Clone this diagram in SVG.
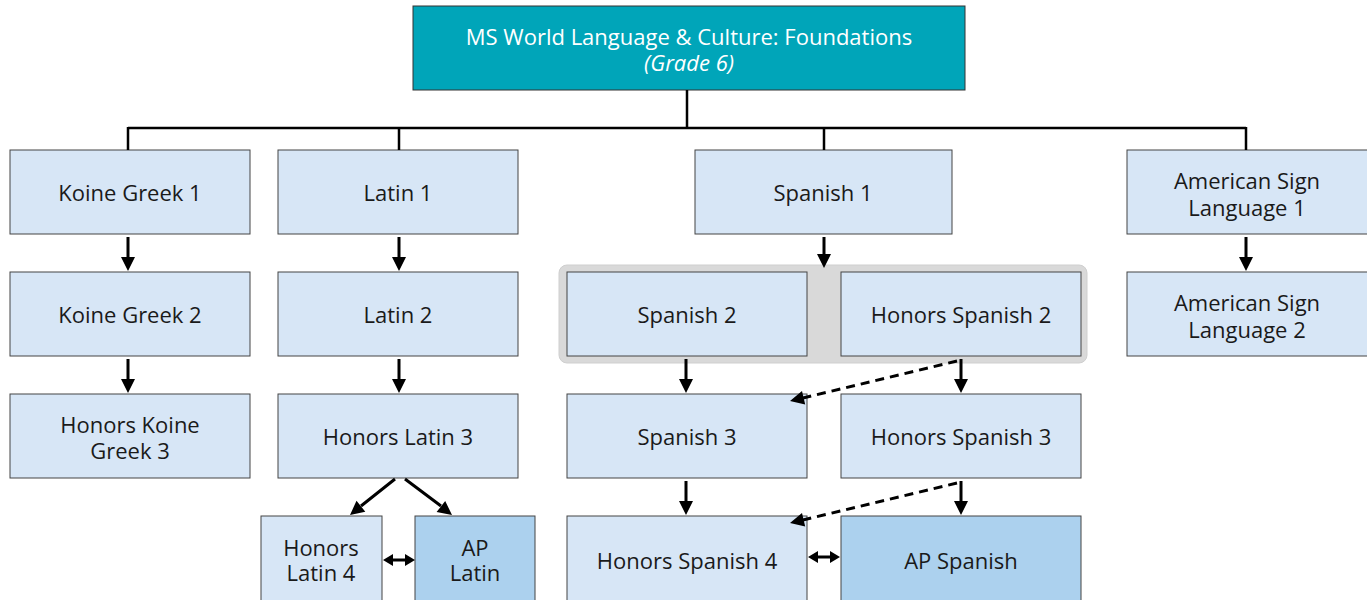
<svg xmlns="http://www.w3.org/2000/svg" width="1367" height="600" viewBox="0 0 1367 600">
<defs>
<style>
.box{fill:#d7e6f6;stroke:#444;stroke-width:1}
.ap{fill:#acd1ee;stroke:#444;stroke-width:1}
.top{fill:#00a5b9;stroke:#333;stroke-width:1}
.t{font-family:"Open Sans","Liberation Sans",sans-serif;font-size:22px;fill:#1a1a1a;text-anchor:middle}
.tw{font-family:"Open Sans","Liberation Sans",sans-serif;font-size:22px;fill:#fff;text-anchor:middle}
.ln{stroke:#000;stroke-width:2.5;fill:none}
.ar{stroke:#000;stroke-width:3;fill:none}
.da{stroke:#000;stroke-width:3;fill:none;stroke-dasharray:9,6}
.hd{fill:#000;stroke:none}
</style>
</defs>
<rect x="559" y="265" width="528" height="98" rx="8" fill="#d9d9d9" stroke="#cfcfcf" stroke-width="1"/>
<g id="top"><rect class="top" x="413" y="6" width="552" height="84"/><text class="tw" x="689" y="45">MS World Language &amp; Culture: Foundations</text><text class="tw" x="689" y="71" font-style="italic">(Grade 6)</text></g>
<g id="kg1"><rect class="box" x="10" y="150" width="240" height="84"/><text class="t" x="130" y="201">Koine Greek 1</text></g>
<g id="lat1"><rect class="box" x="278" y="150" width="240" height="84"/><text class="t" x="398" y="201">Latin 1</text></g>
<g id="sp1"><rect class="box" x="695" y="150" width="257" height="84"/><text class="t" x="823" y="201">Spanish 1</text></g>
<g id="asl1"><rect class="box" x="1127" y="150" width="245" height="84"/><text class="t" x="1247" y="189">American Sign</text><text class="t" x="1247" y="216">Language 1</text></g>
<g id="kg2"><rect class="box" x="10" y="272" width="240" height="84"/><text class="t" x="130" y="323">Koine Greek 2</text></g>
<g id="lat2"><rect class="box" x="278" y="272" width="240" height="84"/><text class="t" x="398" y="323">Latin 2</text></g>
<g id="sp2"><rect class="box" x="567" y="272" width="240" height="84"/><text class="t" x="687" y="323">Spanish 2</text></g>
<g id="hsp2"><rect class="box" x="841" y="272" width="240" height="84"/><text class="t" x="961" y="323">Honors Spanish 2</text></g>
<g id="asl2"><rect class="box" x="1127" y="272" width="245" height="84"/><text class="t" x="1247" y="311">American Sign</text><text class="t" x="1247" y="338">Language 2</text></g>
<g id="hkg3"><rect class="box" x="10" y="394" width="240" height="84"/><text class="t" x="130" y="433">Honors Koine</text><text class="t" x="130" y="459">Greek 3</text></g>
<g id="hlat3"><rect class="box" x="278" y="394" width="240" height="84"/><text class="t" x="398" y="445">Honors Latin 3</text></g>
<g id="sp3"><rect class="box" x="567" y="394" width="240" height="84"/><text class="t" x="687" y="445">Spanish 3</text></g>
<g id="hsp3"><rect class="box" x="841" y="394" width="240" height="84"/><text class="t" x="961" y="445">Honors Spanish 3</text></g>
<g id="hlat4"><rect class="box" x="261" y="516" width="121" height="90"/><text class="t" x="321" y="556">Honors</text><text class="t" x="321" y="581">Latin 4</text></g>
<g id="aplat"><rect class="ap" x="415" y="516" width="120" height="90"/><text class="t" x="475" y="556">AP</text><text class="t" x="475" y="581">Latin</text></g>
<g id="hsp4"><rect class="box" x="567" y="516" width="240" height="90"/><text class="t" x="687" y="569">Honors Spanish 4</text></g>
<g id="apsp"><rect class="ap" x="841" y="516" width="240" height="90"/><text class="t" x="961" y="569">AP Spanish</text></g>
<g id="connectors">
<path class="ln" d="M687,90 V128 M128,128 H1246 M128,127 V150 M399,127 V150 M824,127 V150 M1246,127 V150"/>
<path class="ar" d="M128,237 V258 M399,237 V258 M824,237 V255 M1246,237 V258 M128,359 V380 M399,359 V380 M686,359 V380 M961,359 V380 M686,481 V502 M961,481 V502 M395,479 L361,506 M405,479 L441,506 M390,560 H408 M815,557 H833"/>
<path class="da" d="M957,361 L803,398 M957,483 L803,520"/>
<path class="hd" d="M121,257 H135 L128,271 Z M392,257 H406 L399,271 Z M817,254 H831 L824,268 Z M1239,257 H1253 L1246,271 Z M121,379 H135 L128,393 Z M392,379 H406 L399,393 Z M679,379 H693 L686,393 Z M954,379 H968 L961,393 Z M679,501 H693 L686,515 Z M954,501 H968 L961,515 Z"/>
<path class="hd" d="M790,401 L805.2,404.5 L802,390.9 Z M790,523 L805.2,526.5 L802,512.9 Z"/>
<path class="hd" d="M350,515 L365.3,511.7 L356.5,500.8 Z M452,515 L436.6,512.1 L445.2,500.9 Z"/>
<path class="hd" d="M383,560 L393,554 L393,566 Z M415,560 L405,554 L405,566 Z M808,557 L818,551 L818,563 Z M840,557 L830,551 L830,563 Z"/>
</g>
</svg>
